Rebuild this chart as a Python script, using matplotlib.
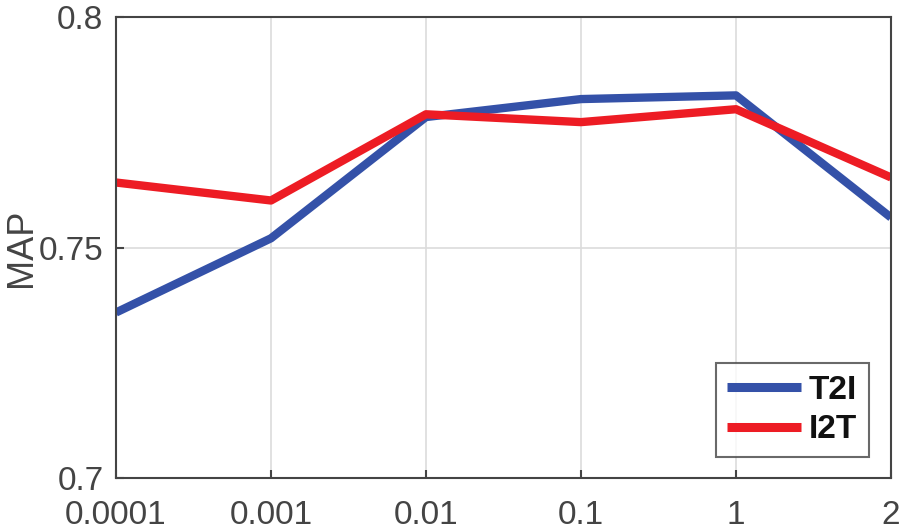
import matplotlib
matplotlib.use("Agg")
import matplotlib.pyplot as plt

# parameter values shown on the x axis (evenly spaced categories)
x_labels = ["0.0001", "0.001", "0.01", "0.1", "1", "2"]

# MAP values
t2i = [0.7359, 0.7520, 0.7783, 0.7822, 0.7830, 0.7565]
i2t = [0.7641, 0.7602, 0.7789, 0.7772, 0.7800, 0.7652]

plt.rcParams["font.family"] = ["Liberation Sans", "DejaVu Sans"]

fig = plt.figure(figsize=(9.04, 5.30), dpi=100)
ax = fig.add_axes([0.1283, 0.0981, 0.8573, 0.8698])

xs = list(range(len(x_labels)))
ax.plot(xs, t2i, color="#3451a8", lw=6, label="T2I", solid_capstyle="butt")
ax.plot(xs, i2t, color="#ed1c24", lw=6, label="I2T", solid_capstyle="butt")

ax.set_xlim(0, len(x_labels) - 1)
ax.set_ylim(0.7, 0.8)
ax.set_xticks(xs)
ax.set_xticklabels(x_labels)
ax.set_yticks([0.7, 0.75, 0.8])
ax.set_yticklabels(["0.7", "0.75", "0.8"])

ax.grid(True, color="#dcdcdc", lw=1.2)
ax.set_axisbelow(True)
for s in ax.spines.values():
    s.set_color("#444444")
    s.set_linewidth(1.5)
ax.tick_params(direction="in", length=6, width=1.5, color="#444444",
               labelsize=24, labelcolor="#444444")
ax.tick_params(axis="x", pad=16)
ax.tick_params(axis="y", pad=9)

# label sits in the left margin, right next to the 0.75 tick label
ax.set_ylabel("MAP", fontsize=26, color="#444444")
ax.yaxis.set_label_coords(-0.099, 0.5)

leg = ax.legend(loc="lower right", bbox_to_anchor=(0.9716, 0.0456), borderaxespad=0,
                prop={"weight": "bold", "size": 24},
                frameon=True, fancybox=False, handlelength=2.2, handletextpad=0.25,
                borderpad=0.35, labelspacing=0.25)
leg.get_frame().set_edgecolor("#444444")
leg.get_frame().set_linewidth(1.5)
for h in leg.get_lines():
    h.set_linewidth(6.5)
for t in leg.get_texts():
    t.set_color("#111111")

fig.savefig("out.png", dpi=100)
